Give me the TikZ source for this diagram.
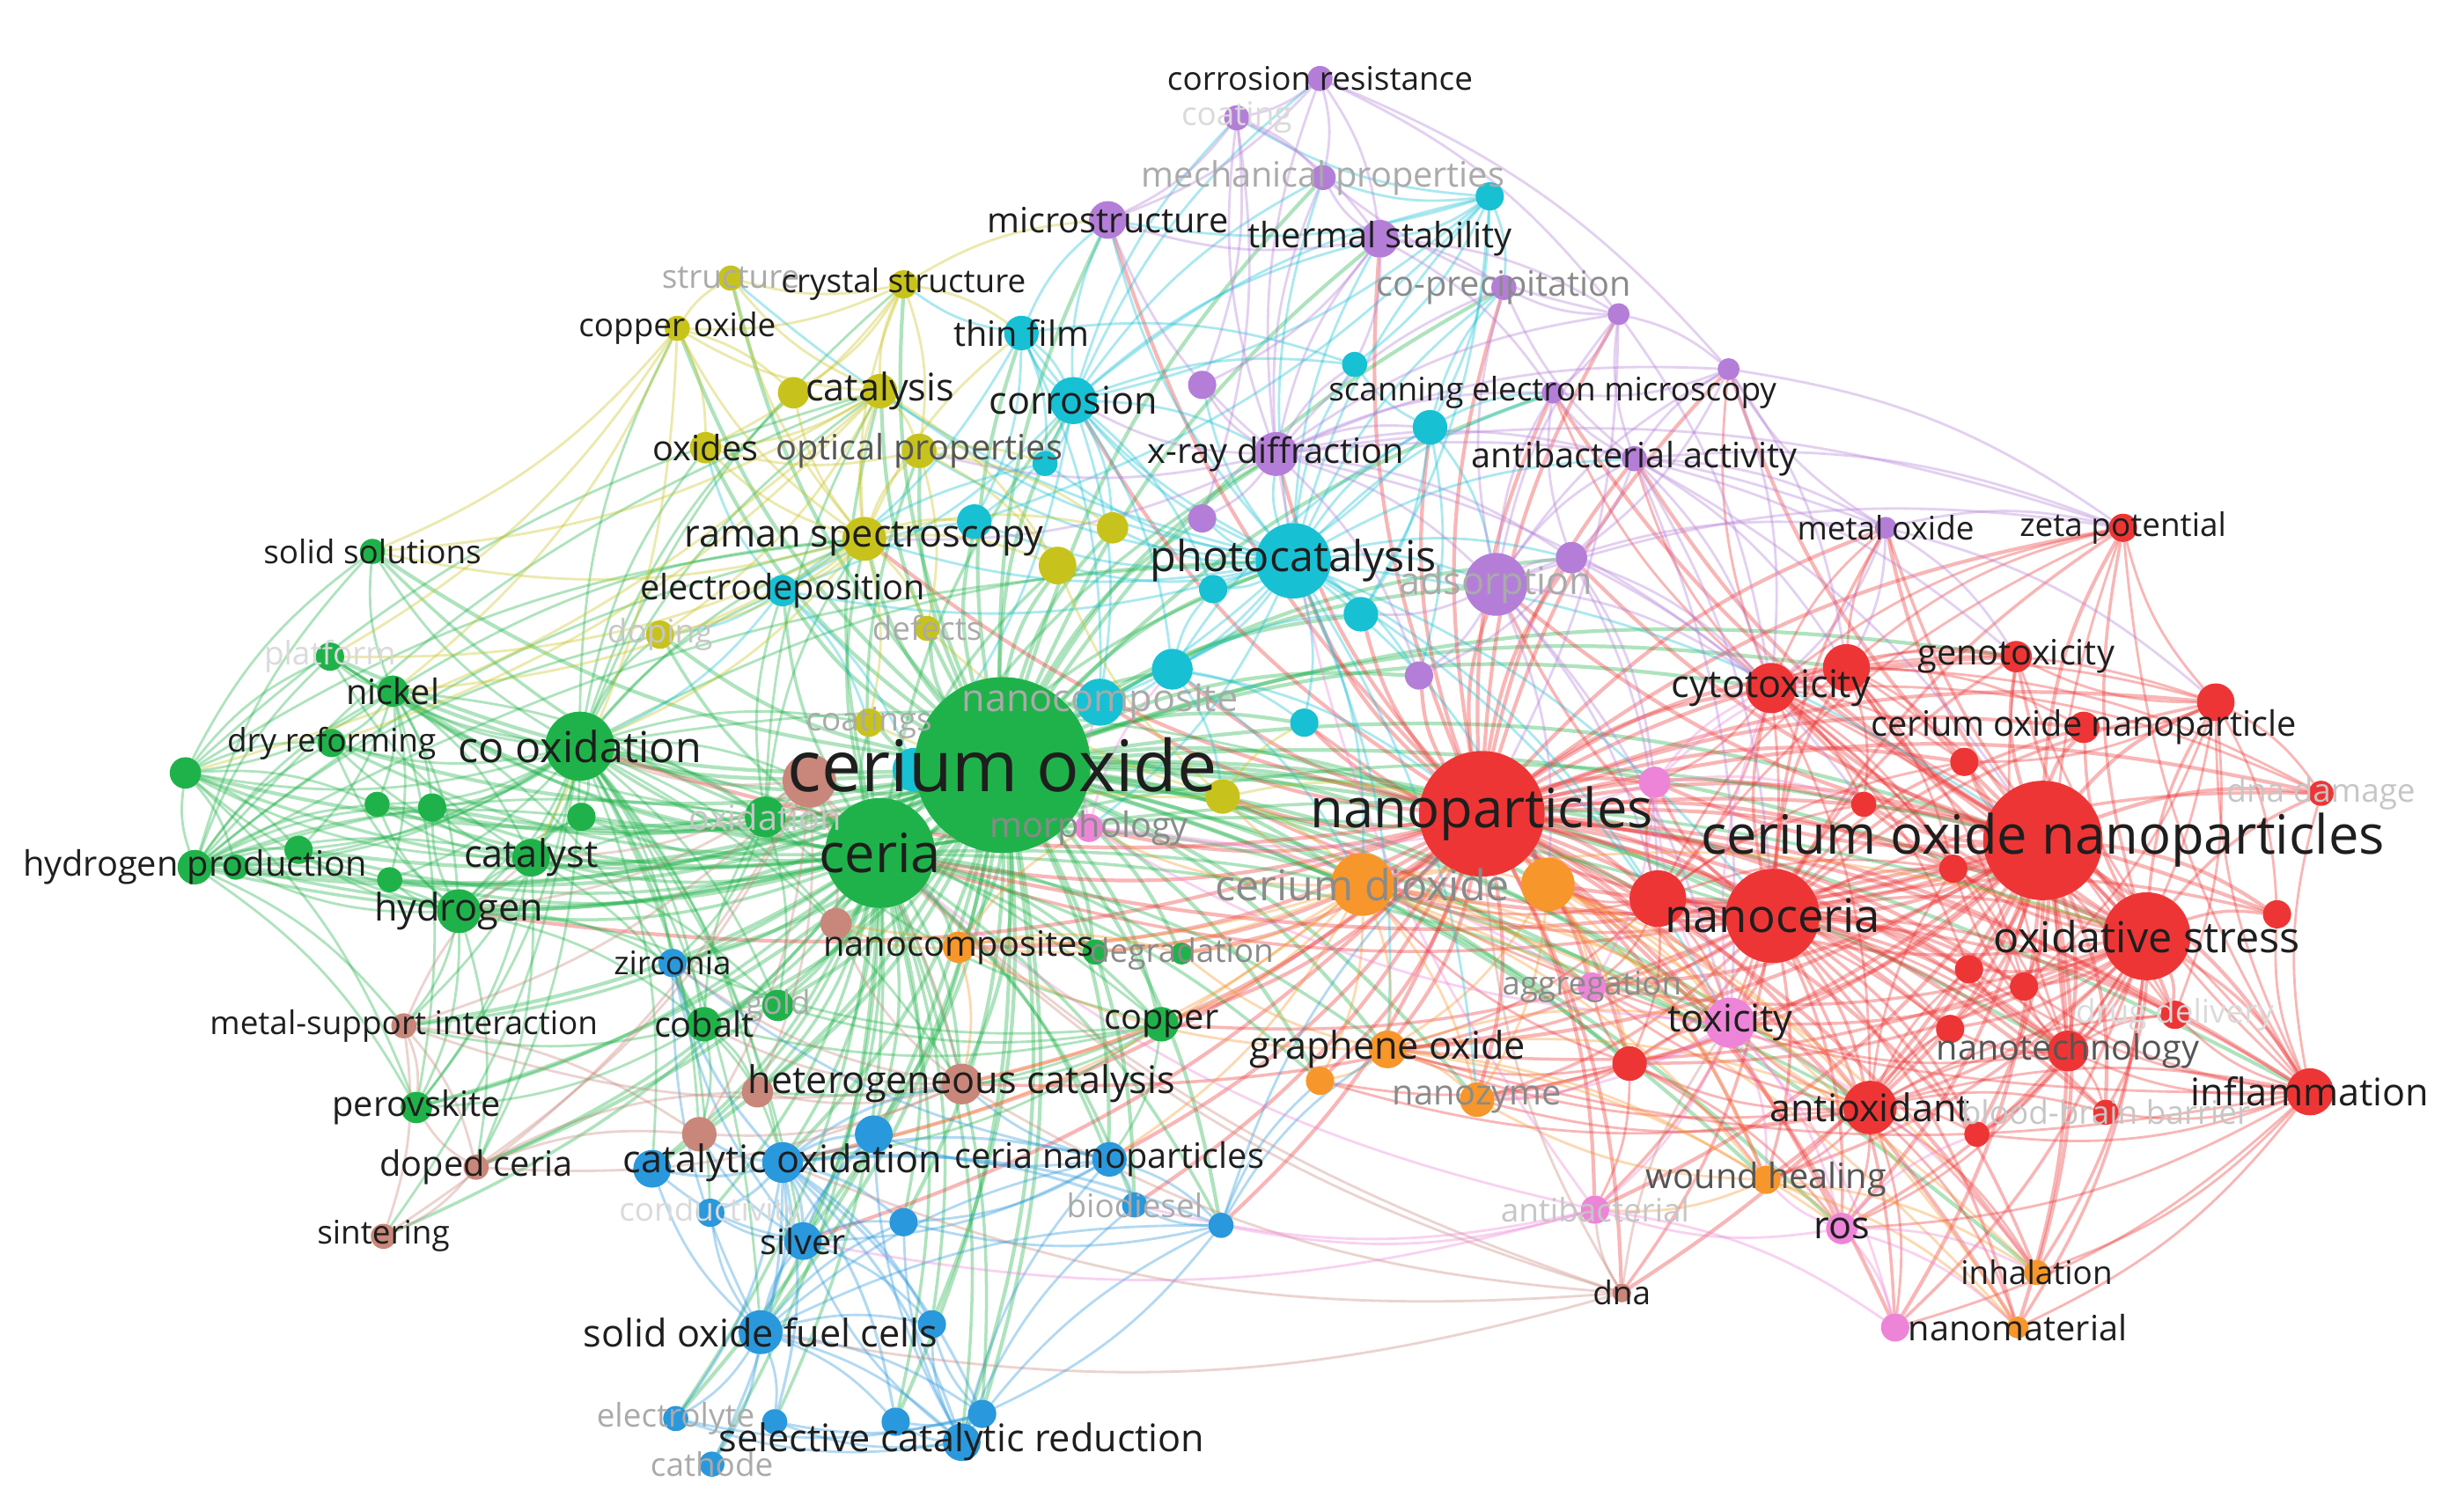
\documentclass[tikz,border=0pt]{standalone}
\usepackage{fontspec}
\setmainfont{Open Sans}
\definecolor{cgreen}{HTML}{20B24A}
\definecolor{cred}{HTML}{EE3535}
\definecolor{cblue}{HTML}{2A98DC}
\definecolor{cyel}{HTML}{C8C31C}
\definecolor{cpurp}{HTML}{B47ED8}
\definecolor{ccyan}{HTML}{18C0D4}
\definecolor{corng}{HTML}{F7962A}
\definecolor{cbrwn}{HTML}{C8877A}
\definecolor{cpink}{HTML}{EE84D8}
\definecolor{tk}{HTML}{1E1E1E}
\definecolor{tg1}{HTML}{555555}
\definecolor{tg2}{HTML}{8A8A8A}
\definecolor{tg3}{HTML}{AAAAAA}
\definecolor{tg4}{HTML}{C6C6C6}
\definecolor{tg5}{HTML}{DADADA}
\pgfdeclarelayer{bg}
\pgfdeclarelayer{edges}
\pgfsetlayers{bg,edges,main}
\tikzset{
 kd/.style={circle, fill=#1, draw=none, inner sep=0pt, outer sep=0pt},
 ed/.style={line width=0.8pt, draw opacity=0.36, bend left=13},
 lb/.style={inner sep=0pt, text=tk, font=\fontsize{#1}{#1}\selectfont},
 ls/.style={lb=10.5}, lm/.style={lb=11.3}, lml/.style={lb=12.3},
 ll/.style={lb=13.8}, lxl/.style={lb=15}, lxxl/.style={lb=17.5}, lh/.style={lb=23},
}
\newcommand\kn[4]{\node[kd=#2, minimum size=#4*0.0357cm] (#1) at (#3) {};}
\newcommand\kl[3]{\node[#2] (t-#1) at (#1) {#3};}
\newcommand\fan[3][]{\foreach \x in {#3}{\draw[ed,#1] (#2) to (\x);}}
\begin{document}
\begin{tikzpicture}[x=0.01785cm,y=-0.01785cm]
\useasboundingbox (0,0) rectangle (1568,957);
\begin{pgfonlayer}{bg}
\fill[white] (0,0) rectangle (1568,957);
\end{pgfonlayer}
% ---------- nodes ----------
% cyan
\kn{c10}{ccyan}{582,490}{14}
\kn{c1}{ccyan}{948,125}{9}
\kn{thin}{ccyan}{650,212}{11}
\kn{corr}{ccyan}{683,255}{15}
\kn{c2}{ccyan}{862,232}{8}
\kn{c3}{ccyan}{910,272}{11}
\kn{c4}{ccyan}{665,295}{8}
\kn{c5}{ccyan}{620,332}{11}
\kn{photo}{ccyan}{823,357}{24}
\kn{c6}{ccyan}{772,375}{9}
\kn{c7}{ccyan}{866,391}{11}
\kn{c8}{ccyan}{746,426}{13}
\kn{nanoc}{ccyan}{700,447}{15}
\kn{c9}{ccyan}{830,460}{9}
\kn{elecdep}{ccyan}{498,376}{10}
% purple
\kn{corres}{cpurp}{840,50}{8}
\kn{coating}{cpurp}{787,75}{8}
\kn{mech}{cpurp}{842,113}{8}
\kn{micro}{cpurp}{705,140}{12}
\kn{thermal}{cpurp}{878,152}{12}
\kn{copre}{cpurp}{957,183}{8}
\kn{p1}{cpurp}{1030,200}{7}
\kn{p2}{cpurp}{1100,235}{7}
\kn{sem}{cpurp}{988,250}{7}
\kn{p3}{cpurp}{765,245}{9}
\kn{antibact}{cpurp}{1040,292}{8}
\kn{xrd}{cpurp}{812,289}{14}
\kn{adsorp}{cpurp}{952,372}{20}
\kn{p4}{cpurp}{1000,355}{10}
\kn{p5}{cpurp}{765,330}{9}
\kn{p6}{cpurp}{903,430}{9}
\kn{metox}{cpurp}{1200,336}{7}
% yellow
\kn{struct}{cyel}{465,177}{8}
\kn{crys}{cyel}{575,181}{9}
\kn{cuox}{cyel}{431,209}{8}
\kn{catal}{cyel}{560,249}{11}
\kn{y1}{cyel}{505,250}{10}
\kn{oxides}{cyel}{449,285}{10}
\kn{optp}{cyel}{585,287}{11}
\kn{raman}{cyel}{550,343}{14}
\kn{y2}{cyel}{673,360}{12}
\kn{y3}{cyel}{708,336}{10}
\kn{doping}{cyel}{420,404}{9}
\kn{defects}{cyel}{590,400}{8}
\kn{coatings}{cyel}{553,460}{9}
\kn{y4}{cyel}{778,507}{11}
% green
\kn{co}{cgreen}{638,487}{56}
\kn{ceria}{cgreen}{560,543}{35}
\kn{cooxi}{cgreen}{369,475}{22}
\kn{solsol}{cgreen}{237,351}{8}
\kn{platf}{cgreen}{210,418}{9}
\kn{nickel}{cgreen}{250,440}{10}
\kn{dryref}{cgreen}{211,473}{9}
\kn{g1}{cgreen}{118,492}{10}
\kn{g2}{cgreen}{240,512}{8}
\kn{g3}{cgreen}{275,514}{9}
\kn{g4}{cgreen}{190,541}{9}
\kn{hprod}{cgreen}{124,552}{11}
\kn{g5}{cgreen}{150,552}{8}
\kn{g6}{cgreen}{248,560}{8}
\kn{catalyst}{cgreen}{338,546}{12}
\kn{hydrogen}{cgreen}{292,580}{14}
\kn{g7}{cgreen}{370,520}{9}
\kn{oxid}{cgreen}{487,520}{13}
\kn{cobalt}{cgreen}{448,652}{11}
\kn{gold}{cgreen}{495,640}{10}
\kn{copper}{cgreen}{739,652}{11}
\kn{perov}{cgreen}{265,705}{10}
\kn{g8}{cgreen}{697,606}{8}
\kn{degr}{cgreen}{752,607}{7}
% brown
\kn{b1}{cbrwn}{515,497}{17}
\kn{b2}{cbrwn}{532,588}{10}
\kn{msi}{cbrwn}{257,653}{8}
\kn{hetcat}{cbrwn}{612,690}{13}
\kn{b3}{cbrwn}{482,695}{10}
\kn{b4}{cbrwn}{445,722}{11}
\kn{doped}{cbrwn}{303,743}{8}
\kn{sinter}{cbrwn}{244,787}{8}
\kn{dna}{cbrwn}{1032,823}{6}
% blue
\kn{zirc}{cblue}{428,613}{9}
\kn{bl1}{cblue}{415,744}{12}
\kn{catox}{cblue}{498,740}{13}
\kn{bl2}{cblue}{556,722}{12}
\kn{cenp}{cblue}{706,738}{11}
\kn{cond}{cblue}{452,772}{9}
\kn{bl3}{cblue}{575,778}{9}
\kn{silver}{cblue}{511,790}{12}
\kn{biod}{cblue}{722,767}{8}
\kn{bl4}{cblue}{777,780}{8}
\kn{sofc}{cblue}{484,848}{14}
\kn{bl5}{cblue}{593,843}{9}
\kn{electro}{cblue}{430,903}{8}
\kn{cath}{cblue}{453,932}{8}
\kn{bl6}{cblue}{493,905}{8}
\kn{bl7}{cblue}{570,905}{9}
\kn{bl8}{cblue}{625,900}{9}
\kn{scr}{cblue}{612,918}{12}
% orange
\kn{cediox}{corng}{867,563}{20}
\kn{o1}{corng}{985,563}{17}
\kn{nanocs}{corng}{610,603}{10}
\kn{graph}{corng}{883,668}{12}
\kn{o2}{corng}{840,688}{9}
\kn{nanozyme}{corng}{940,700}{11}
\kn{wound}{corng}{1124,751}{9}
\kn{inhal}{corng}{1296,810}{8}
\kn{nanomat}{corng}{1284,845}{7}
% pink
\kn{toxic}{cpink}{1101,651}{16}
\kn{aggr}{cpink}{1013,628}{9}
\kn{ros}{cpink}{1172,782}{10}
\kn{antibac}{cpink}{1015,770}{9}
\kn{pk1}{cpink}{1053,498}{10}
\kn{morph}{cpink}{693,527}{9}
\kn{pk2}{cpink}{1206,845}{9}
% red
\kn{np}{cred}{943,518}{40}
\kn{conp}{cred}{1300,535}{38}
\kn{nanoceria}{cred}{1128,583}{30}
\kn{oxstress}{cred}{1366,596}{28}
\kn{cyto}{cred}{1127,438}{16}
\kn{r1}{cred}{1175,425}{15}
\kn{geno}{cred}{1283,418}{10}
\kn{zeta}{cred}{1351,336}{9}
\kn{r2}{cred}{1410,447}{12}
\kn{conp1}{cred}{1326,463}{10}
\kn{r3}{cred}{1250,485}{9}
\kn{dnad}{cred}{1477,505}{8}
\kn{r4}{cred}{1186,512}{8}
\kn{r5}{cred}{1055,572}{18}
\kn{r6}{cred}{1243,553}{9}
\kn{r7}{cred}{1449,582}{9}
\kn{r8}{cred}{1253,617}{9}
\kn{r9}{cred}{1288,628}{9}
\kn{drug}{cred}{1384,646}{9}
\kn{r10}{cred}{1241,655}{9}
\kn{nanotech}{cred}{1316,669}{13}
\kn{inflam}{cred}{1470,695}{15}
\kn{antiox}{cred}{1190,705}{17}
\kn{bbb}{cred}{1340,708}{8}
\kn{r11}{cred}{1258,722}{8}
\kn{r12}{cred}{1037,677}{11}
% ---------- edges ----------
\begin{pgfonlayer}{edges}
\fan[cgreen,line width=1.2pt]{co}{ceria,cooxi,catalyst,hydrogen,hprod,nickel,dryref,solsol,perov,cobalt,copper,zirc,catox,bl1,bl2,silver,sofc,scr,hetcat,b1,b2,b3,photo,xrd,thin,corr,raman,catal,optp,oxides,elecdep,micro,thermal,np,nanoceria,conp,oxstress,toxic,antiox,graph,cediox,o1,nanocs,cenp,y2,y3,c5,c8,nanoc,c9,p5,adsorp,cyto,r5,wound,msi,doped,g1,g3,g4,g7,oxid,gold,struct,crys,cuox,mech,inflam,nanotech,morph,degr,y4,defects,coatings,doping,platf,bl3,biod,c7,c10,g8,inhal,ros,geno,r1,r12,aggr,nanozyme,o2,bl4,p6,p4,copre,sem,g2,g5,g6,bl5,bl7,bl8,electro}
\fan[cred,line width=1.2pt]{np}{conp,nanoceria,oxstress,cyto,r1,geno,zeta,r2,conp1,r3,r4,r5,r6,r7,r8,r9,drug,r10,nanotech,inflam,antiox,bbb,r12,toxic,aggr,ros,antibac,pk1,graph,cediox,o1,nanozyme,wound,inhal,nanomat,dna,adsorp,p4,p6,antibact,metox,xrd,photo,c7,c9,ceria,morph,hetcat,cenp,sem,copre,c3,dnad,pk2,r11,y4,copper,thermal,catox,cooxi,hydrogen,nanocs,o2,c8,nanoc,micro,corr,raman,silver,bl4,biod,degr,g8,p2,p1}
\fan[cred,line width=1.2pt]{conp}{nanoceria,oxstress,cyto,r1,geno,zeta,r2,conp1,r3,dnad,r4,r6,r7,r8,r9,drug,r10,nanotech,inflam,antiox,bbb,r11,toxic,ros,inhal,nanomat,metox,pk2,r5,cediox,o1,wound,graph,ceria,antibact,p4,adsorp,r12,aggr,pk1,antibac,nanozyme,dna,p2,sem}
\fan[cred,line width=1.0pt]{nanoceria}{oxstress,cyto,r1,geno,zeta,r2,conp1,r3,r6,r7,r8,r9,drug,nanotech,inflam,antiox,bbb,toxic,ros,wound,aggr,antibac,nanozyme,graph,cediox,o1,r12,dna,inhal,nanomat,metox,ceria,adsorp,r10,r11,pk1,r4,dnad,pk2,y4,c9,copper,hetcat}
\fan[cred,line width=1.0pt]{oxstress}{cyto,r1,geno,zeta,r2,conp1,r3,dnad,r7,r9,drug,nanotech,inflam,antiox,bbb,r11,toxic,ros,inhal,nanomat,pk2,r5,r8,r10,r4,r6,r12,graph,wound,aggr,metox}
\fan[cred]{cyto}{r1,geno,r2,zeta,r3,r4,r5,toxic,antiox,inflam,metox,pk1,drug,dnad,r6,r8,r9,nanotech,antibact,p2,sem}
\fan[cred]{antiox}{inflam,r11,bbb,nanotech,r10,ros,wound,toxic,r12,nanozyme,pk2,inhal,r8,r9,drug,r6,aggr,graph,o2,nanomat}
\fan[cred]{inflam}{r7,r2,drug,dnad,nanotech,inhal,nanomat,bbb,geno,zeta,graph,cediox,r9,r8,r11,pk2,ros}
\fan[cred]{r5}{r1,r4,r6,r12,toxic,aggr,pk1,cediox,o1,graph,zeta,r3,r8,r10,nanotech}
\fan[cred]{r1}{geno,zeta,r2,conp1,r3,r4,r6,r9,drug,metox,dnad}
\fan[cred]{r2}{zeta,geno,conp1,dnad,r7,drug,r3,nanotech,r9}
\fan[cred]{nanotech}{r8,r9,r10,drug,bbb,r11,r6,zeta,geno,toxic,ros}
\fan[cred]{r12}{toxic,aggr,antibac,graph,nanozyme,wound,o2,cediox,ros}
\fan[cgreen,line width=1.0pt]{ceria}{cooxi,catalyst,hydrogen,hprod,nickel,dryref,solsol,perov,cobalt,copper,zirc,catox,bl1,bl2,silver,sofc,scr,hetcat,b1,b2,b3,b4,msi,doped,sinter,g1,g2,g3,g4,g5,g6,g7,oxid,gold,platf,cenp,bl3,electro,cath,bl7,photo,raman,xrd,y2,cediox,nanocs,degr,g8,cond,bl5,bl6,bl8,biod,bl4,conp,nanoceria,oxstress,toxic,antiox,graph,o2,y4,elecdep,catal,optp,corr,doping,coatings}
\fan[cgreen]{cooxi}{catalyst,hydrogen,hprod,nickel,dryref,solsol,platf,g1,g2,g3,g4,g5,g6,g7,perov,cobalt,gold,copper,oxid,zirc,catox,msi,doped,b1,b4,bl1,raman,cuox,oxides,catal,elecdep,doping,sinter,np,photo,hetcat,b2,b3,cond,silver,sofc,coatings,y1,crys}
\fan[cgreen]{hprod}{g1,g4,g5,dryref,nickel,catalyst,hydrogen,g2,g6,perov,platf,solsol,raman,catal,photo,doping,g3,g7,oxid,msi}
\fan[cgreen]{nickel}{dryref,g1,platf,solsol,g3,hydrogen,catalyst,g2,g4,g6,perov,cobalt,oxid,raman}
\fan[cgreen]{hydrogen}{catalyst,g6,g4,perov,cobalt,msi,g5,dryref,g1,g2,g3,g7,zirc,doped,oxid,gold}
\fan[cgreen]{catalyst}{g7,g3,cobalt,doped,gold,g2,g1,dryref,platf,perov}
\fan[cgreen]{g1}{g4,g5,dryref,platf,solsol,g2,perov,raman,catal}
\fan[cgreen]{copper}{gold,cobalt,oxid,hetcat,catox,cenp,zirc,b3}
\fan[cgreen]{cobalt}{gold,zirc,b3,b4,catox,perov,msi,oxid}
\fan[cgreen]{oxid}{g7,b1,catal,raman,elecdep,gold,zirc,platf}
\fan[ccyan]{photo}{corr,thin,c1,c2,c3,c4,c5,c6,c7,c8,nanoc,c9,elecdep,xrd,adsorp,thermal,micro,p4,p6,y2,y3,raman,optp,cediox,graph,o1,copre,sem,antibact,mech,struct,catal,nanozyme,morph,c10,conp,nanoceria,toxic,r5,p3,p5}
\fan[ccyan]{corr}{thin,c4,c5,elecdep,micro,thermal,c1,mech,coating,corres,c2,c8,c10,c6,nanoc,xrd,y3}
\fan[ccyan]{c1}{thermal,micro,mech,c2,c3,copre,corr,coating,c5,c7}
\fan[ccyan]{thin}{c5,micro,crys,c2,elecdep,c4,corr,nanoc}
\fan[ccyan]{c8}{nanoc,c9,c6,y4,cediox,np,c7,c3}
\fan[ccyan]{c3}{c2,c6,c7,p6,adsorp,sem,copre}
\fan[ccyan]{elecdep}{c5,c4,doping,coatings,oxides,cooxi,c10}
\fan[cpurp]{xrd}{micro,thermal,mech,copre,sem,antibact,p1,p2,p3,p4,p5,p6,adsorp,metox,c2,c3,corr,optp,raman,coating,corres,zeta,cyto}
\fan[cpurp]{corres}{coating,mech,thermal,micro,p1,p2}
\fan[cpurp]{coating}{micro,mech,thermal,p3,p5}
\fan[cpurp]{adsorp}{p4,p6,antibact,sem,p1,p2,copre,metox,c7,toxic,cyto,r5,o1,zeta}
\fan[cpurp]{antibact}{sem,p1,p2,metox,p4,zeta,copre,conp,cyto,toxic,geno,nanoceria,r1}
\fan[cpurp]{thermal}{micro,mech,copre,p1,sem,p3,c2}
\fan[cpurp]{metox}{cyto,geno,zeta,r1,r2,p2}
\fan[cpurp]{p1}{p2,sem,copre,mech,np,cyto}
\fan[cpurp]{p2}{sem,p4,zeta,r1,cyto}
\fan[cpurp]{p4}{p6,sem,cyto,r4,pk1,r5}
\fan[cyel]{raman}{catal,y1,optp,oxides,cuox,struct,crys,doping,defects,coatings,y2,y3,elecdep,c5,thin,cooxi,nickel,platf,solsol}
\fan[cyel]{catal}{y1,crys,struct,cuox,oxides,optp,y2,solsol,g1,dryref,doping}
\fan[cyel]{crys}{struct,cuox,y1,optp,thin,micro,oxides}
\fan[cyel]{optp}{y2,y3,oxides,defects,c4}
\fan[cyel]{cuox}{catalyst,solsol,nickel,struct,y1,oxides,platf}
\fan[cyel]{y4}{np,cediox,defects,coatings,y2,c9}
\fan[corng]{cediox}{o1,graph,o2,nanozyme,wound,inhal,nanomat,nanocs,y4,morph,hetcat,catox,antiox,oxstress,copper,cenp,degr,b2,aggr,toxic}
\fan[corng]{o1}{graph,nanozyme,wound,nanomat,inhal,toxic,aggr,antiox,r12}
\fan[corng]{graph}{antiox,nanozyme,o2,wound,toxic,nanocs,degr,ros}
\fan[corng]{wound}{inhal,nanomat,antibac,ros,nanozyme}
\fan[corng]{nanocs}{degr,g8,b2,hetcat,morph}
\fan[cblue,line width=0.9pt]{catox}{bl1,bl2,cond,silver,bl3,sofc,scr,bl6,bl7,bl8,electro,cath,cenp,biod,bl4,zirc,hetcat,b4,bl5}
\fan[cblue]{sofc}{electro,cath,bl6,bl7,bl8,scr,silver,cond,bl1,bl5,zirc,bl3,bl2,cenp,bl4}
\fan[cblue]{scr}{bl6,bl7,bl8,electro,bl5,bl3,bl4,biod,silver,bl2,cenp}
\fan[cblue]{cenp}{bl2,bl3,bl4,biod,silver,hetcat,zirc}
\fan[cblue]{silver}{bl1,bl2,bl3,cond,bl5,zirc,b4}
\fan[cblue]{bl4}{np,o2,biod,bl3,bl8,graph}
\fan[cblue]{bl8}{bl6,bl7,bl5,electro}
\fan[cbrwn]{b1}{hetcat,b2,b3,b4,msi,doped,sinter,cooxi,hydrogen,catalyst,oxid}
\fan[cbrwn]{hetcat}{b3,b4,doped,b2,msi,zirc,cobalt}
\fan[cbrwn]{msi}{doped,sinter,b4,perov,catalyst}
\fan[cbrwn]{doped}{sinter,b4,b3,perov}
\fan[cbrwn]{dna}{ceria,hetcat,b1,catox,sofc,antibac,toxic,np}
\fan[cpink]{toxic}{aggr,ros,antibac,pk1,pk2,morph,nanozyme,cyto,wound,r12,inhal}
\fan[cpink]{ros}{antibac,pk2,wound,inhal,nanomat,r11}
\fan[cpink]{antibac}{ceria,xrd,silver,pk2,bl4,biod}
\fan[cpink]{pk1}{aggr,morph,r4,cyto,r1}
\fan[cpink]{morph}{aggr,nanoc,c8}
\end{pgfonlayer}
% ---------- labels ----------
\kl{corres}{ls}{corrosion resistance}
\kl{coating}{ls,text=tg5}{coating}
\kl{mech}{lm,text=tg3}{mechanical properties}
\kl{micro}{lm}{microstructure}
\kl{thermal}{lm}{thermal stability}
\kl{copre}{lm,text=tg2}{co-precipitation}
\kl{struct}{ls,text=tg3}{structure}
\kl{crys}{ls}{crystal structure}
\kl{cuox}{ls}{copper oxide}
\kl{thin}{lm}{thin film}
\kl{catal}{lml}{catalysis}
\kl{corr}{lml}{corrosion}
\kl{sem}{ls}{scanning electron microscopy}
\kl{oxides}{lm}{oxides}
\kl{optp}{lm,text=tg1}{optical properties}
\kl{xrd}{lm}{x-ray diffraction}
\kl{antibact}{lm}{antibacterial activity}
\kl{metox}{ls}{metal oxide}
\kl{zeta}{ls}{zeta potential}
\kl{solsol}{ls}{solid solutions}
\kl{raman}{lml}{raman spectroscopy}
\kl{photo}{ll}{photocatalysis}
\kl{adsorp}{lml,text=tg3}{adsorption}
\kl{elecdep}{lm}{electrodeposition}
\kl{platf}{ls,text=tg5}{platform}
\kl{doping}{ls,text=tg4}{doping}
\kl{defects}{ls,text=tg3}{defects}
\kl{nickel}{lm}{nickel}
\kl{cyto}{lml}{cytotoxicity}
\kl{geno}{lm}{genotoxicity}
\kl{nanoc}{lml,text=tg3}{nanocomposite}
\kl{dryref}{ls}{dry reforming}
\kl{cooxi}{ll}{co oxidation}
\kl{coatings}{ls,text=tg3}{coatings}
\kl{conp1}{lm}{cerium oxide nanoparticle}
\kl{co}{lh}{cerium oxide}
\kl{oxid}{lm,text=tg4}{oxidation}
\kl{morph}{lm,text=tg2}{morphology}
\kl{np}{lxxl}{nanoparticles}
\kl{dnad}{ls,text=tg4}{dna damage}
\kl{conp}{lxxl}{cerium oxide nanoparticles}
\kl{hprod}{lm}{hydrogen production}
\kl{catalyst}{lml}{catalyst}
\kl{ceria}{lxxl}{ceria}
\kl{cediox}{ll,text=tg2}{cerium dioxide}
\kl{nanoceria}{lxl}{nanoceria}
\kl{hydrogen}{lml}{hydrogen}
\kl{oxstress}{ll}{oxidative stress}
\kl{zirc}{ls}{zirconia}
\kl{nanocs}{lm}{nanocomposites}
\kl{degr}{ls,text=tg2}{degradation}
\kl{aggr}{ls,text=tg2}{aggregation}
\kl{drug}{ls,text=tg5}{drug delivery}
\kl{gold}{ls,text=tg3}{gold}
\kl{msi}{ls}{metal-support interaction}
\kl{cobalt}{lm}{cobalt}
\kl{copper}{lm}{copper}
\kl{toxic}{lml}{toxicity}
\kl{graph}{lml}{graphene oxide}
\kl{nanotech}{lm,text=tg1}{nanotechnology}
\kl{hetcat}{lml}{heterogeneous catalysis}
\kl{inflam}{lml}{inflammation}
\kl{perov}{lm}{perovskite}
\kl{nanozyme}{lm,text=tg2}{nanozyme}
\kl{antiox}{lml}{antioxidant}
\kl{bbb}{ls,text=tg4}{blood-brain barrier}
\kl{doped}{lm}{doped ceria}
\kl{catox}{lml}{catalytic oxidation}
\kl{cenp}{lm}{ceria nanoparticles}
\kl{wound}{lm,text=tg1}{wound healing}
\kl{cond}{ls,text=tg5}{conductivity}
\kl{biod}{ls,text=tg3}{biodiesel}
\kl{antibac}{ls,text=tg4}{antibacterial}
\kl{ros}{lml}{ros}
\kl{sinter}{ls}{sintering}
\kl{silver}{lm}{silver}
\kl{inhal}{ls}{inhalation}
\kl{dna}{ls}{dna}
\kl{sofc}{lml}{solid oxide fuel cells}
\kl{nanomat}{lm}{nanomaterial}
\kl{electro}{ls,text=tg3}{electrolyte}
\kl{scr}{lml}{selective catalytic reduction}
\kl{cath}{ls,text=tg3}{cathode}
\end{tikzpicture}
\end{document}
